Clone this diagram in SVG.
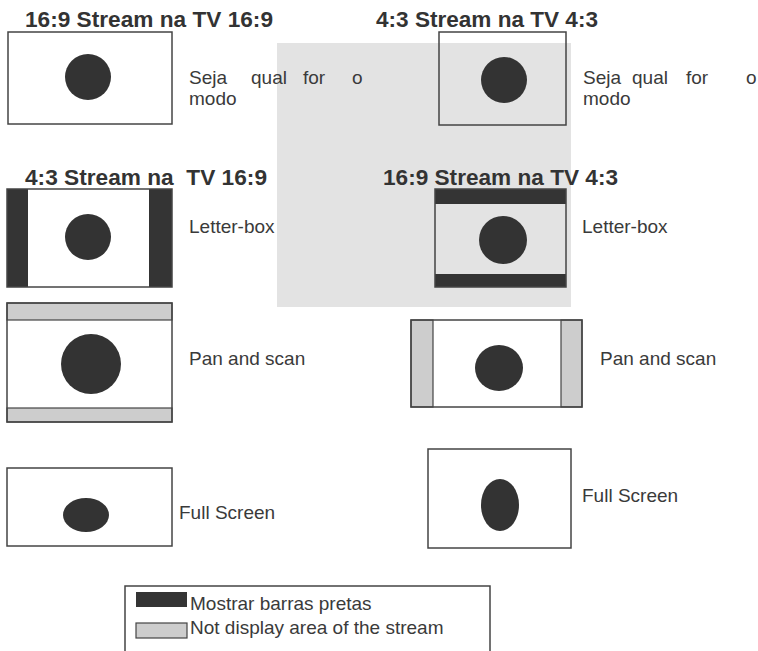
<svg xmlns="http://www.w3.org/2000/svg" width="758" height="651" viewBox="0 0 758 651">
<defs>
<style>
.title{font-family:"Liberation Sans",Arial,sans-serif;font-weight:bold;font-size:22px;fill:#333;}
.lbl{font-family:"Liberation Sans",Arial,sans-serif;font-size:19px;fill:#3a3a3a;}
.tv{fill:none;stroke:#444;stroke-width:1.5;}
.blk{fill:#343434;}
.gry{fill:#cdcdcd;stroke:#444;stroke-width:1.2;}
.dot{fill:#333;}
</style>
</defs>
<rect x="0" y="0" width="758" height="651" fill="#ffffff"/>
<g id="scan-shadow">
<rect x="277" y="43" width="294" height="264" fill="#e3e3e3"/>
</g>

<g id="case-169-on-169">
<text class="title" x="25" y="27" textLength="248" lengthAdjust="spacingAndGlyphs">16:9 Stream na TV 16:9</text>
<rect class="tv" x="8" y="32" width="164" height="92"/>
<circle class="dot" cx="88" cy="77" r="23"/>
<text class="lbl" y="84"><tspan x="189">Seja</tspan><tspan x="251">qual</tspan><tspan x="303">for</tspan><tspan x="352">o</tspan></text>
<text class="lbl" x="189" y="105">modo</text>
</g>

<g id="case-43-on-43">
<text class="title" x="376" y="27" textLength="222" lengthAdjust="spacingAndGlyphs">4:3 Stream na TV 4:3</text>
<rect class="tv" x="439" y="32" width="127" height="93"/>
<circle class="dot" cx="504" cy="80" r="23"/>
<text class="lbl" y="84"><tspan x="583">Seja</tspan><tspan x="632">qual</tspan><tspan x="686">for</tspan><tspan x="746">o</tspan></text>
<text class="lbl" x="583" y="105">modo</text>
</g>

<g id="case-43-on-169-letterbox">
<text class="title" x="25" y="185" textLength="242" lengthAdjust="spacingAndGlyphs" style="white-space:pre">4:3 Stream na  TV 16:9</text>
<rect class="blk" x="7" y="189" width="21" height="98"/>
<rect class="blk" x="149" y="189" width="23" height="98"/>
<rect class="tv" x="7" y="189" width="165" height="98"/>
<circle class="dot" cx="88" cy="237" r="23"/>
<text class="lbl" x="189" y="233">Letter-box</text>
</g>

<g id="case-169-on-43-letterbox">
<text class="title" x="383" y="185" textLength="235" lengthAdjust="spacingAndGlyphs">16:9 Stream na TV 4:3</text>
<rect class="blk" x="435" y="189" width="131" height="15"/>
<rect class="blk" x="435" y="274" width="131" height="13"/>
<rect class="tv" x="435" y="189" width="131" height="98"/>
<circle class="dot" cx="503" cy="240" r="24"/>
<text class="lbl" x="582" y="233">Letter-box</text>
</g>

<g id="case-43-on-169-panscan">
<rect class="gry" x="7" y="303" width="165" height="17"/>
<rect class="gry" x="7" y="408" width="165" height="14"/>
<rect class="tv" x="7" y="303" width="165" height="119"/>
<circle class="dot" cx="91" cy="364" r="30"/>
<text class="lbl" x="189" y="365">Pan and scan</text>
</g>

<g id="case-169-on-43-panscan">
<rect class="gry" x="411" y="320" width="22" height="87"/>
<rect class="gry" x="561" y="320" width="21" height="87"/>
<rect class="tv" x="411" y="320" width="171" height="87"/>
<ellipse class="dot" cx="499" cy="368" rx="24" ry="23"/>
<text class="lbl" x="600" y="365">Pan and scan</text>
</g>

<g id="case-fullscreen-169">
<rect class="tv" x="7" y="468" width="165" height="78"/>
<ellipse class="dot" cx="86" cy="515" rx="23" ry="17"/>
<text class="lbl" x="179" y="519">Full Screen</text>
</g>

<g id="case-fullscreen-43">
<rect class="tv" x="428" y="449" width="143" height="99"/>
<ellipse class="dot" cx="500" cy="505" rx="19" ry="26"/>
<text class="lbl" x="582" y="502">Full Screen</text>
</g>

<g id="legend">
<rect class="tv" x="125" y="586" width="365" height="80"/>
<rect class="blk" x="136" y="592" width="51" height="15"/>
<rect class="gry" x="136" y="623" width="51" height="15"/>
<text class="lbl" x="190" y="610">Mostrar barras pretas</text>
<text class="lbl" x="190" y="634">Not display area of the stream</text>
</g>
</svg>
